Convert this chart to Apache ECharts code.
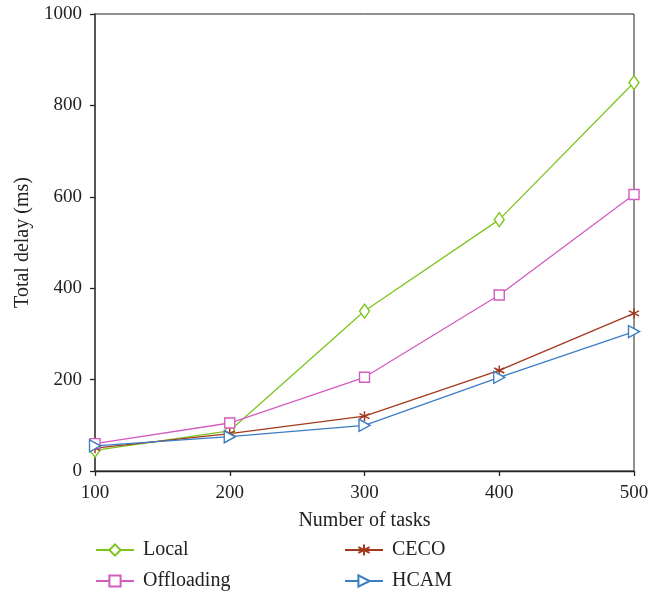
<!DOCTYPE html>
<html>
<head>
<meta charset="utf-8">
<script src="https://cdn.jsdelivr.net/npm/echarts@6/dist/echarts.min.js"></script>
<style>html,body{margin:0;padding:0;background:#fff}#c{width:668px;height:592px}</style>
</head>
<body>
<div id="c"></div>
<script>
const tasks = [100, 200, 300, 400, 500];
const localDelay = [45, 88, 350, 550, 850];
const offloadingDelay = [60, 105, 205, 385, 605];
const cecoDelay = [50, 82, 120, 220, 345];
const hcamDelay = [55, 75, 100, 205, 305];
const seriesNames = ['Local', 'Offloading', 'CECO', 'HCAM'];

const FONT = '"Liberation Serif", "DejaVu Serif", serif';
const asterisk = 'path://M5 0 L5 10 M0.7 2.5 L9.3 7.5 M0.7 7.5 L9.3 2.5';

function pairs(vals) { return tasks.map((t, i) => [t, vals[i]]); }

function mkSeries(name, vals, color, symbol, size, extra) {
  return Object.assign({
    name, type: 'line', data: pairs(vals), symbol, symbolSize: size,
    lineStyle: { color, width: 1.3 },
    itemStyle: { color: '#fff', borderColor: color, borderWidth: 1.4 },
    emphasis: { disabled: true }, animation: false
  }, extra || {});
}

const chart = echarts.init(document.getElementById('c'), null, { renderer: 'canvas' });
chart.setOption({
  backgroundColor: '#fff',
  animation: false,
  grid: { left: 95, right: 34, top: 14, bottom: 121, show: true, borderColor: '#222', borderWidth: 1, backgroundColor: 'transparent' },
  legend: {
    show: true, orient: 'vertical', left: 95, top: 540, height: 52, padding: 0,
    data: seriesNames, itemWidth: 38, itemHeight: 14, itemGap: 11,
    textStyle: { fontFamily: FONT, fontSize: 20, color: '#222', lineHeight: 20, width: 190, padding: [0, 0, 0, 4] }
  },
  xAxis: {
    type: 'value', min: 100, max: 500, interval: 100,
    name: 'Number of tasks', nameLocation: 'middle', nameGap: 40,
    nameTextStyle: { fontFamily: FONT, fontSize: 20, color: '#222' },
    axisLine: { show: true, lineStyle: { color: '#222', width: 1.3 } },
    axisTick: { show: true, inside: false, length: 5, lineStyle: { color: '#222', width: 1.3 } },
    axisLabel: { fontFamily: FONT, fontSize: 19, color: '#222', margin: 13 },
    splitLine: { show: false }
  },
  yAxis: {
    type: 'value', min: 0, max: 1000, interval: 200,
    name: 'Total delay (ms)', nameLocation: 'middle', nameGap: 62,
    nameTextStyle: { fontFamily: FONT, fontSize: 20, color: '#222' },
    axisLine: { show: true, lineStyle: { color: '#555', width: 2 } },
    axisTick: { show: true, inside: false, length: 5, lineStyle: { color: '#222', width: 1.3 } },
    axisLabel: { fontFamily: FONT, fontSize: 19, color: '#222', margin: 13, formatter: v => String(v) },
    splitLine: { show: false }
  },
  series: [
    mkSeries('Local', localDelay, '#7dc41f', 'diamond', [10, 14]),
    mkSeries('Offloading', offloadingDelay, '#d35cbf', 'rect', 10),
    mkSeries('CECO', cecoDelay, '#a3391e', asterisk, 10, { itemStyle: { color: '#a3391e', borderColor: '#a3391e', borderWidth: 1.5 } }),
    mkSeries('HCAM', hcamDelay, '#3b7dc4', 'triangle', [12, 11], { symbolRotate: -90 })
  ]
});
</script>
</body>
</html>
